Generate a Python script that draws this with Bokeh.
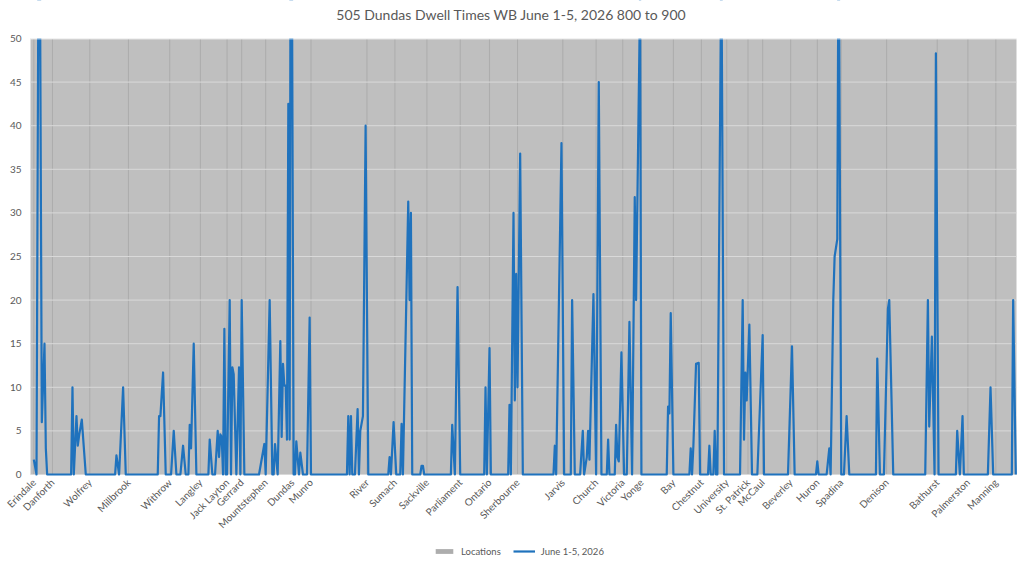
import math
from bokeh.plotting import figure
from bokeh.models import FixedTicker, Legend, LegendItem, Range1d, BoxAnnotation, Label
from bokeh.embed import file_html
from bokeh.resources import INLINE

# ---- data -------------------------------------------------------------
title_text = "505 Dundas Dwell Times WB June 1-5, 2026 800 to 900"
series_name = "June 1-5, 2026"
locations_name = "Locations"

n_samples = 740  # sample positions along the route (westbound)

# location (stop) names and the sample index at which each stop sits
loc_names = ["Erindale", "Danforth", "Wolfrey", "Millbrook", "Withrow", "Langley",
             "Jack Layton", "Gerrard", "Mountstephen", "Dundas", "Munro", "River",
             "Sumach", "Sackville", "Parliament", "Ontario", "Sherbourne", "Jarvis",
             "Church", "Victoria", "Yonge", "Bay", "Chestnut", "University",
             "St. Patrick", "McCaul", "Beverley", "Huron", "Spadina", "Denison",
             "Bathurst", "Palmerston", "Manning"]
loc_idx = [2, 16, 44, 73, 104, 127, 147, 158, 176, 196, 210, 252,
           273, 297, 322, 344, 365, 399, 424, 444, 458, 482, 503, 522,
           538, 549, 570, 590, 608, 642, 680, 703, 724]
loc_height = [50] * len(loc_idx)

# dwell time readings (seconds) at sample indices
sample_idx = [
    2, 4, 6, 8, 10, 11, 12,
    30, 31, 32, 34, 35, 36, 38, 41,
    63, 64, 66, 69, 71,
    95, 96, 97, 99, 101,
    105, 107, 109,
    112, 114, 116,
    118, 119, 120, 122, 124,
    133, 134, 136,
    138, 140, 141, 142, 143, 144, 145, 146, 147, 149, 150, 151, 152, 154, 156, 157, 158, 160,
    171, 175, 176, 179, 181, 182, 183, 185, 187, 188, 189, 190, 191, 192, 193, 194, 195, 197,
    198, 199, 201, 202, 204,
    207, 209, 210,
    237, 238, 239, 240, 241,
    243, 245, 246, 247, 249, 251, 253,
    268, 269, 270, 272, 274,
    277, 278, 279, 283, 284, 285, 286,
    292, 293, 294, 295,
    315, 316, 318, 320, 322,
    340, 341, 342, 344, 345,
    358, 359, 360, 362, 363, 364, 365, 367, 369,
    392, 393, 394, 398, 400,
    405, 406, 408,
    412, 414, 415, 417, 418, 419, 422, 424, 426, 428,
    432, 433, 434,
    438, 439, 440, 441, 443, 445,
    447, 449, 451, 453, 454, 457, 458,
    477, 478, 479, 480, 482,
    494, 495, 496, 497, 499, 501, 502,
    508, 509, 510, 512, 513, 514, 515, 518, 520,
    532, 534, 535, 536, 537, 539, 541,
    545, 549, 550,
    568, 571, 573,
    589, 590, 591,
    597, 599, 600, 602, 603, 605, 606, 608,
    610, 612, 614,
    634, 635, 637,
    640, 643, 644, 647,
    671, 673, 674, 676, 678, 679, 681,
    694, 695, 697, 699, 700,
    718, 720, 722,
    736, 737, 739,
]
dwell = [
    1.7, 0, 80, 6, 15, 3, 0,
    0, 10, 0, 6.7, 3.3, 4.5, 6.3, 0,
    0, 2.2, 0, 10, 0,
    0, 6.7, 6.7, 11.7, 0,
    0, 5, 0,
    0, 3.3, 0,
    0, 5.7, 3, 15, 0,
    0, 4, 0,
    0, 5, 2, 4.6, 4.3, 0, 16.7, 0, 0, 20, 0, 12.3, 11.5, 0, 12.3, 0, 20, 0,
    0, 3.5, 0, 20, 0, 0, 3.5, 0, 15.3, 4.3, 12.7, 10.2, 10.2, 4, 42.5, 4, 90, 0,
    0, 3.8, 0, 2.5, 0,
    0, 18, 0,
    0, 6.7, 0, 6.7, 0,
    0, 7.5, 0, 5, 6.7, 40, 0,
    0, 2, 0, 6, 0,
    0, 5.8, 0, 31.3, 20, 30, 0,
    0, 1, 1, 0,
    0, 5.7, 0, 21.5, 0,
    0, 10, 0, 14.5, 0,
    0, 8, 0, 30, 8.5, 23, 10, 36.8, 0,
    0, 3.3, 0, 38, 0,
    0, 20, 0,
    0, 5, 0, 2, 5, 1.7, 20.7, 0, 45, 0,
    0, 4, 0,
    0, 5.7, 2, 1.5, 14, 0,
    0, 17.5, 0, 31.8, 20, 55, 0,
    0, 7.8, 7, 18.5, 0,
    0, 3, 0, 3.3, 12.7, 12.8, 0,
    0, 3.3, 0, 0, 5, 0, 0, 60, 0,
    0, 20, 4, 11.7, 8.5, 17.2, 0,
    0, 16, 0,
    0, 14.7, 0,
    0, 1.5, 0,
    0, 3, 0, 20, 25, 27, 65, 0,
    0, 6.7, 0,
    0, 13.3, 0,
    0, 19, 20, 0,
    0, 20, 5.5, 15.8, 0, 48.3, 0,
    0, 5, 0, 6.7, 0,
    0, 10, 0,
    0, 20, 0,
]
y_ticks = [0, 5, 10, 15, 20, 25, 30, 35, 40, 45, 50]
y_max = 50

# ---- layout constants (pixels) ---------------------------------------
W, H = 1024, 563
PLOT_LEFT, PLOT_RIGHT = 30, 1016         # pixel columns of the plot area
PLOT_TOP, PLOT_BOTTOM = 38, 474          # pixel rows of y=50 and y=0
px_per_idx = (PLOT_RIGHT - PLOT_LEFT) / n_samples
px_per_unit = (PLOT_BOTTOM - PLOT_TOP) / y_max
x_first, x_last = -0.5, n_samples - 0.5
x_lo = x_first - PLOT_LEFT / px_per_idx
x_hi = x_last + (W - PLOT_RIGHT) / px_per_idx
y_lo = -(H - PLOT_BOTTOM) / px_per_unit
y_hi = y_max + PLOT_TOP / px_per_unit

TXT = "#595959"
FONT = "Lato"

p = figure(width=W, height=H,
           x_range=Range1d(x_lo, x_hi), y_range=Range1d(y_lo, y_hi),
           output_backend="svg", toolbar_location=None,
           min_border_left=0, min_border_right=0,
           min_border_top=0, min_border_bottom=0,
           background_fill_color="white", border_fill_color="white",
           outline_line_color=None)

# gray plot area (0..50)
p.add_layout(BoxAnnotation(left=x_first, right=x_last, bottom=0, top=y_max,
                           fill_color="#bfbfbf", fill_alpha=1,
                           line_color=None, level="image"))

p.xgrid.visible = False
p.ygrid.visible = False

# y axis on the left edge of the plot area
p.yaxis.fixed_location = x_first
p.yaxis.ticker = FixedTicker(ticks=y_ticks)
p.yaxis.axis_line_color = None
p.yaxis.major_tick_line_color = None
p.yaxis.minor_tick_line_color = None
p.yaxis.major_tick_out = 0
p.yaxis.major_tick_in = 0
p.yaxis.major_label_standoff = 9
p.yaxis.major_label_text_font = FONT
p.yaxis.major_label_text_font_size = "10px"
p.yaxis.major_label_text_color = TXT

# x axis with location names, sitting on y = 0
p.xaxis.fixed_location = 0
p.xaxis.ticker = FixedTicker(ticks=loc_idx)
p.xaxis.major_label_overrides = {i: n for i, n in zip(loc_idx, loc_names)}
p.xaxis.major_label_orientation = math.pi / 4
p.xaxis.axis_line_color = None
p.xaxis.major_tick_line_color = None
p.xaxis.minor_tick_line_color = None
p.xaxis.major_tick_out = 0
p.xaxis.major_tick_in = 0
p.xaxis.major_label_standoff = 6
p.xaxis.major_label_text_font = FONT
p.xaxis.major_label_text_font_size = "10px"
p.xaxis.major_label_text_color = TXT

# location markers
vb = p.vbar(x=loc_idx, top=loc_height, bottom=0, width=0.8,
            fill_color="#adadad", line_color=None)

# horizontal gridlines limited to the plot area
p.segment(x0=[x_first] * len(y_ticks), x1=[x_last] * len(y_ticks),
          y0=y_ticks, y1=y_ticks, line_color="#d9d9d9", line_width=1)

# dwell time line
ln = p.line(x=sample_idx, y=dwell, line_color="#1f72bd", line_width=2.2,
            line_join="round")

# mask anything drawn above the 50 s axis maximum (plot columns only,
# so the "50" tick label on the left stays visible)
p.add_layout(BoxAnnotation(left=x_first, right=x_hi, bottom=y_max, top=y_hi + 3,
                           fill_color="white", fill_alpha=1,
                           line_color="white", line_width=3, level="guide"))

# title
p.add_layout(Label(x=511, y=(H - 14), x_units="screen", y_units="screen",
                   text=title_text, text_align="center", text_baseline="middle",
                   text_font=FONT, text_font_size="14px", text_color=TXT,
                   level="overlay"))

legend = Legend(items=[LegendItem(label=locations_name, renderers=[vb]),
                       LegendItem(label=series_name, renderers=[ln])],
                orientation="horizontal", location=(433, 6),
                background_fill_alpha=0, border_line_color=None,
                padding=0, margin=0, spacing=12, label_standoff=6,
                glyph_width=22, glyph_height=6, label_height=12,
                label_text_font=FONT, label_text_font_size="9.5px",
                label_text_color=TXT)
p.add_layout(legend, "center")

open("out.html", "w").write(file_html(p, INLINE))
